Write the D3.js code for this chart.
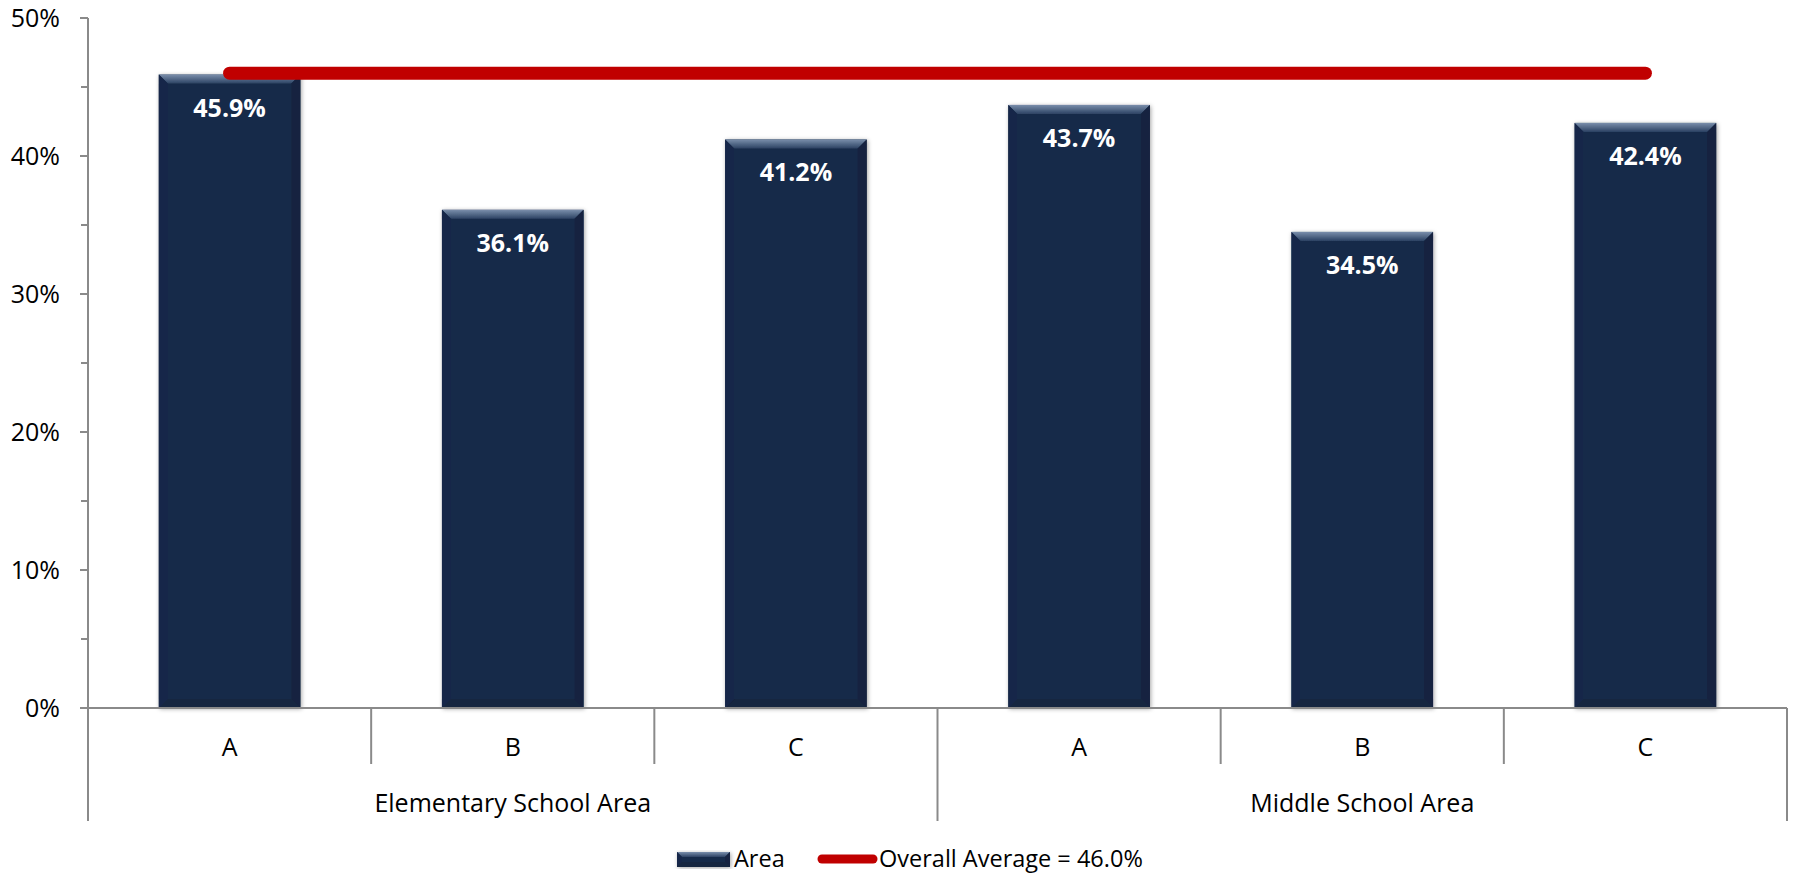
<!DOCTYPE html>
<html>
<head>
<meta charset="utf-8">
<script src="https://cdn.jsdelivr.net/npm/d3@7"></script>
<style>
  html, body { margin: 0; padding: 0; background: #ffffff; }
  svg { display: block; font-family: "Open Sans", "Noto Sans", sans-serif; }
</style>
</head>
<body>
<svg id="chart" width="1794" height="873"></svg>
<script>
// Share of each school area, in percent
const categoryLabels = ["A", "B", "C", "A", "B", "C"];
const categoryGroups = [
  "Elementary School Area", "Elementary School Area", "Elementary School Area",
  "Middle School Area", "Middle School Area", "Middle School Area"
];
const groupNames = ["Elementary School Area", "Middle School Area"];
const areaValues = [45.9, 36.1, 41.2, 43.7, 34.5, 42.4];
const overallAverage = 46.0;
const yTicks = [0, 10, 20, 30, 40, 50];
const yMinorTicks = [5, 15, 25, 35, 45];
const seriesName = "Area";

const svg = d3.select("#chart");
const plotLeft = 88, plotRight = 1787, plotTop = 18, plotBottom = 708;
const catTickEnd = 764, groupTickEnd = 821;
const axisColor = "#8a8a8a";
const navy = "#182b49";
const red = "#c00000";

const idx = areaValues.map((d, i) => i);
const x = d3.scaleBand().domain(idx).range([plotLeft, plotRight])
  .paddingInner(0.5).paddingOuter(0.25);
const step = x.step();
const y = d3.scaleLinear().domain([0, 50]).range([plotBottom, plotTop]);

// defs: bevel gradient and soft shadow
const defs = svg.append("defs");
const g1 = defs.append("linearGradient").attr("id", "bevelTop")
  .attr("x1", 0).attr("y1", 0).attr("x2", 0).attr("y2", 1);
g1.append("stop").attr("offset", "0%").attr("stop-color", "#7a8eab");
g1.append("stop").attr("offset", "100%").attr("stop-color", "#2c4263");
const f = defs.append("filter").attr("id", "shadow")
  .attr("x", "-10%").attr("y", "-10%").attr("width", "120%").attr("height", "120%");
f.append("feDropShadow").attr("dx", 1).attr("dy", 1).attr("stdDeviation", 2)
  .attr("flood-color", "#000").attr("flood-opacity", 0.35);

function bevelBox(sel, x0, y0, w, h, b) {
  const x1 = x0 + w, y1 = y0 + h;
  const g = sel.append("g");
  g.append("rect").attr("x", x0).attr("y", y0).attr("width", w).attr("height", h)
    .attr("fill", navy);
  const poly = (pts, fill) => g.append("polygon")
    .attr("points", pts.map(p => p.join(",")).join(" ")).attr("fill", fill);
  poly([[x0, y0], [x1, y0], [x1 - b, y0 + b], [x0 + b, y0 + b]], "url(#bevelTop)");
  poly([[x0, y0], [x0 + b, y0 + b], [x0 + b, y1 - b], [x0, y1]], "#16284a");
  poly([[x1, y0], [x1 - b, y0 + b], [x1 - b, y1 - b], [x1, y1]], "#13233f");
  poly([[x0, y1], [x0 + b, y1 - b], [x1 - b, y1 - b], [x1, y1]], "#14253f");
  return g;
}

// Bars
const barLayer = svg.append("g").attr("filter", "url(#shadow)");
idx.forEach(i => {
  const v = areaValues[i];
  bevelBox(barLayer, x(i), y(v), x.bandwidth(), y(0) - y(v), 9);
});

// Axes
const axisG = svg.append("g").attr("stroke", axisColor).attr("stroke-width", 2).attr("fill", "none");
// vertical axis line (continues down as the outer group divider)
axisG.append("line").attr("x1", plotLeft).attr("x2", plotLeft).attr("y1", y(50)).attr("y2", groupTickEnd);
axisG.selectAll("line.major").data(yTicks).enter().append("line")
  .attr("x1", plotLeft - 8).attr("x2", plotLeft).attr("y1", d => y(d)).attr("y2", d => y(d));
axisG.selectAll("line.minor").data(yMinorTicks).enter().append("line")
  .attr("x1", plotLeft - 7).attr("x2", plotLeft).attr("y1", d => y(d)).attr("y2", d => y(d));
// horizontal axis line
axisG.append("line").attr("x1", plotLeft).attr("x2", plotRight).attr("y1", y(0)).attr("y2", y(0));
// category dividers
d3.range(1, idx.length).forEach(k => {
  const xx = plotLeft + k * step;
  const isGroup = categoryGroups[k] !== categoryGroups[k - 1];
  axisG.append("line").attr("x1", xx).attr("x2", xx).attr("y1", y(0))
    .attr("y2", isGroup ? groupTickEnd : catTickEnd);
});
axisG.append("line").attr("x1", plotRight).attr("x2", plotRight).attr("y1", y(0)).attr("y2", groupTickEnd);

// Y tick labels
svg.append("g").selectAll("text").data(yTicks).enter().append("text")
  .attr("x", 60).attr("y", d => y(d)).attr("dy", "0.36em")
  .attr("text-anchor", "end").attr("font-size", 25).attr("fill", "#000")
  .text(d => d + "%");

// Category labels
svg.append("g").selectAll("text").data(idx).enter().append("text")
  .attr("x", i => x(i) + x.bandwidth() / 2).attr("y", 756)
  .attr("text-anchor", "middle").attr("font-size", 25).attr("fill", "#000")
  .text(i => categoryLabels[i]);

// Group labels
svg.append("g").selectAll("text").data(groupNames).enter().append("text")
  .attr("x", gName => {
    const members = idx.filter(i => categoryGroups[i] === gName);
    const x0 = plotLeft + members[0] * step;
    const x1 = plotLeft + (members[members.length - 1] + 1) * step;
    return (x0 + x1) / 2;
  })
  .attr("y", 812).attr("text-anchor", "middle").attr("font-size", 25).attr("fill", "#000")
  .text(d => d);

// Overall average line
const avgLine = d3.line().x(i => x(i) + x.bandwidth() / 2).y(() => y(overallAverage));
svg.append("path").datum([idx[0], idx[idx.length - 1]])
  .attr("d", avgLine).attr("stroke", red).attr("stroke-width", 13)
  .attr("stroke-linecap", "round").attr("fill", "none");

// Value labels
svg.append("g").selectAll("text").data(idx).enter().append("text")
  .attr("x", i => x(i) + x.bandwidth() / 2).attr("y", i => y(areaValues[i]) + 42)
  .attr("text-anchor", "middle").attr("font-size", 25).attr("font-weight", "bold")
  .attr("fill", "#ffffff")
  .text(i => areaValues[i].toFixed(1) + "%");

// Legend
const legend = svg.append("g");
const lg = legend.append("g").attr("filter", "url(#shadow)");
bevelBox(lg, 677, 852, 53, 15, 5);
legend.append("text").attr("x", 734).attr("y", 867).attr("font-size", 23.5).attr("fill", "#000")
  .text(seriesName);
legend.append("line").attr("x1", 822).attr("x2", 873).attr("y1", 859).attr("y2", 859)
  .attr("stroke", red).attr("stroke-width", 9).attr("stroke-linecap", "round");
legend.append("text").attr("x", 879).attr("y", 867).attr("font-size", 23.5).attr("fill", "#000")
  .text("Overall Average = " + overallAverage.toFixed(1) + "%");
</script>
</body>
</html>
